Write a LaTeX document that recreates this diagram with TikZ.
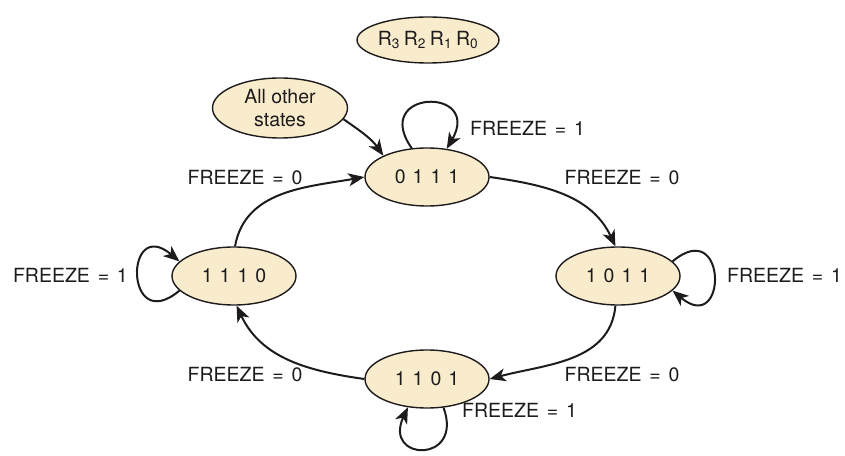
\documentclass[tikz,border=0pt]{standalone}
\usepackage{fontspec}
\setmainfont{TeX Gyre Heros}
\usepackage{xcolor}
\usepackage{tikz}
\usetikzlibrary{arrows.meta, shapes.geometric}

\definecolor{statefill}{RGB}{249,236,205}
\definecolor{ink}{RGB}{30,27,28}
\newcommand{\bits}[4]{#1\hspace{0.36em}#2\hspace{0.36em}#3\hspace{0.36em}#4}
\newcommand{\frz}[1]{FREEZE\hspace{0.4em}=\hspace{0.4em}#1}

\begin{document}
\begin{tikzpicture}[x=1pt, y=1pt, ink,
    every node/.style={font=\fontsize{19.5}{23}\selectfont, text=ink},
    state/.style={ellipse, draw=ink, line width=1.4pt, fill=statefill,
                  minimum width=124pt, minimum height=58pt, inner sep=0pt},
    trans/.style={line width=2pt, -{Stealth[length=16pt, width=13pt, inset=4.5pt]}},
    lbl/.style={inner sep=0pt}]
  \useasboundingbox (0,0) rectangle (845,455);

  % states
  \node[state, minimum width=139pt, minimum height=46pt] (regs) at (428,415)
    {R\textsubscript{3}\hspace{0.2em}R\textsubscript{2}\hspace{0.2em}R\textsubscript{1}\hspace{0.2em}R\textsubscript{0}};
  \node[state, minimum width=135pt, minimum height=60pt, align=center] (others) at (280,347) {All other\\states};
  \node[state] (s0111) at (427,278) {\bits0111};
  \node[state] (s1011) at (618,179) {\bits1011};
  \node[state] (s1110) at (234,179) {\bits1110};
  \node[state] (s1101) at (427,76)  {\bits1101};

  % transitions round the ring
  \draw[trans] (s0111.east) to[out=-8, in=115] (s1011.95);
  \draw[trans] (s1011.265) to[out=-95, in=15] (s1101.east);
  \draw[trans] (s1101.west) to[out=172, in=-65] (s1110.275);
  \draw[trans] (s1110.88) to[out=80, in=190] (s0111.west);
  \draw[trans] (others.-10) to[out=-35, in=125] (s0111.154);

  % self loops
  \draw[trans] (s0111.118) to[out=125, in=60, distance=72pt] (s0111.55);
  \draw[trans] (s1110.195) to[out=220, in=140, distance=72pt] (s1110.165);
  \draw[trans] (s1011.15) to[out=40, in=-40, distance=72pt] (s1011.-15);
  \draw[trans] (s1101.-60) to[out=-70, in=-115, distance=60pt] (s1101.236);

  % labels
  \node[lbl, anchor=west] (f0111) at (470,327) {\frz1};
  \node[lbl] (f01) at (245,277) {\frz0};
  \node[lbl] (f02) at (622,277) {\frz0};
  \node[lbl, anchor=east] (f1110) at (128,180) {\frz1};
  \node[lbl, anchor=west] (f1011) at (727,180) {\frz1};
  \node[lbl] (f03) at (245,80) {\frz0};
  \node[lbl] (f04) at (622,80) {\frz0};
  \node[lbl, anchor=west] (f1101) at (462,45) {\frz1};
\end{tikzpicture}
\end{document}
